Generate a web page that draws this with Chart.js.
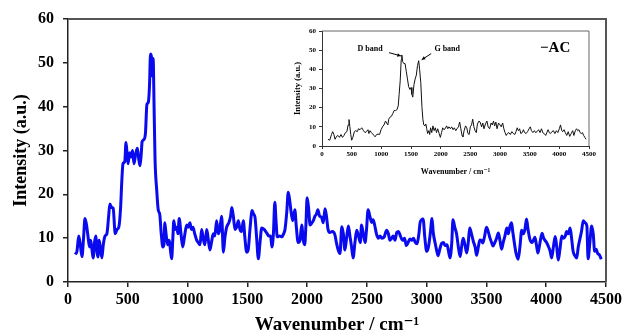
<!DOCTYPE html>
<html>
<head>
<meta charset="utf-8">
<script src="https://cdn.jsdelivr.net/npm/chart.js@4.4.1/dist/chart.umd.min.js"></script>
<style>
  html, body { margin: 0; padding: 0; background: #fff; }
  #wrap { position: relative; width: 625px; height: 336px; }
  #mainChart { position: absolute; left: 0; top: 0; }
  #insetChart { position: absolute; left: 280px; top: 19px; }
</style>
</head>
<body>
<div id="wrap">
  <canvas id="mainChart" width="625" height="336"></canvas>
  <canvas id="insetChart" width="326" height="165"></canvas>
</div>
<script>
// Datos del espectro principal (azul)
const mainX = [60,75,90,105,117,130,142,155,167,180,190,200,210,222,232,242,250,260,270,283,295,310,325,340,350,365,378,395,410,425,440,450,460,475,485,495,503,515,527,540,552,565,580,592,602,612,620,635,648,660,672,682,690,697,705,712,720,728,742,755,767,780,793,802,810,820,833,842,850,858,867,877,885,897,910,920,930,945,960,975,993,1005,1020,1032,1045,1060,1077,1090,1104,1118,1130,1145,1160,1172,1187,1200,1215,1228,1243,1257,1270,1285,1300,1312,1327,1345,1360,1370,1383,1397,1410,1425,1438,1452,1466,1480,1494,1508,1522,1540,1552,1564,1578,1592,1606,1620,1640,1662,1680,1695,1705,1718,1730,1740,1750,1770,1790,1800,1815,1830,1842,1855,1867,1880,1897,1910,1925,1940,1955,1968,1980,1990,2000,2012,2025,2040,2052,2065,2078,2090,2105,2120,2135,2150,2162,2175,2190,2210,2232,2245,2260,2275,2290,2303,2316,2330,2345,2358,2372,2385,2400,2415,2430,2445,2455,2470,2485,2497,2510,2525,2540,2552,2565,2580,2595,2610,2625,2645,2665,2680,2692,2705,2720,2735,2750,2765,2780,2800,2815,2830,2845,2860,2875,2890,2905,2920,2935,2945,2958,2970,2985,3000,3015,3030,3045,3055,3070,3085,3095,3110,3125,3140,3155,3170,3183,3195,3210,3220,3235,3250,3265,3280,3292,3305,3320,3335,3348,3360,3375,3390,3405,3418,3432,3445,3458,3470,3485,3500,3515,3530,3543,3555,3570,3585,3600,3613,3627,3640,3655,3670,3683,3695,3710,3720,3733,3748,3765,3780,3795,3808,3822,3835,3848,3865,3880,3893,3905,3918,3930,3945,3965,3978,3990,4005,4020,4033,4045,4060,4075,4088,4100,4115,4130,4145,4160,4170,4185,4200,4212,4225,4240,4255,4268,4280,4295,4310,4325,4340,4350,4365,4380,4393,4405,4418,4430,4445,4460];
const mainY = [6.3,7,10.5,8,5.8,10,14.5,13,10.5,8,9.5,7.5,5.5,9,10.5,7,5.7,9.5,8,5.5,8.5,10.5,11,15,17.8,17,16.8,11,12,12.5,17,23,27,27.5,31.8,29,27,29.5,28.5,30,27,29,30.5,28,26.5,29,32,32.5,34,40.5,41,45,52,51.5,47,51,40,28,21,16.4,15.5,11,8,8.5,13.5,11,8.5,9.5,9,7,5.3,10,14,12,12.5,11,14.5,11,8,10.5,13,12.5,13.5,12,12.5,11,9.5,9,8.5,12,10,8.5,12,10,7.3,9,11,10.5,14,11,12,15,6.8,10,12.5,13.5,15,17,15,12,12.5,14,12,11.5,14,10,6.8,7.5,12,16.3,15.5,14.8,10,5.3,9,12.3,12,11.2,10.5,10.5,8,11,18.2,14,10.3,10.5,10.3,10.8,12,16,20.5,18.5,15.8,14,16.5,12.5,9,9.5,13,9.5,8.5,13,19.2,17,13,13.5,14,15,15.5,16.5,15,14.8,13.5,16.7,15,12,11.3,11.5,10.8,9,7.3,6.5,12.6,11,7.3,10,12.8,10.5,8,5.5,9,11.8,10.5,9,13,11,9,12,16.5,15,13.6,14.2,13,11,10,10.5,10,10.3,11.8,11,9.5,9.9,10.5,9.5,11.3,11.5,10.5,9.5,10,8.3,9,9.8,9.5,10,9,8.7,11,13.5,14.2,14.4,10,7,8,11,14.5,11.3,9,7,6,7.5,8.8,9,8.3,8.5,7,5.5,9,14.2,12.5,11,8,5.8,8,10,8.5,6.6,9,12.3,11,9.3,8,6.1,8,9.6,9.5,8.9,10.5,12.5,11.5,10,9,8.2,9,10,11.2,9.5,7.5,9,10.5,12.3,11,12.5,13.5,11.5,9,6.5,5.2,8,11.8,11,12,14.4,12,9.6,9,9.5,10.2,8.5,6.6,8.5,11.1,10,9.5,8.9,8,7,5.5,8,10.4,8,5,7.5,10.5,10,10.5,11.5,11,12.3,10,7,6,5.5,8,9.6,11.5,14,13.5,12.8,5.3,9,12.8,11,7,7.5,6.5,6.2,5.2];

// Datos del recuadro (AC, negro)
const insetX = [100,130,160,180,200,220,245,270,295,320,345,370,395,420,440,455,470,485,500,520,545,570,595,615,640,670,700,725,750,775,790,810,830,850,875,895,920,945,970,995,1020,1045,1070,1090,1110,1125,1145,1170,1195,1215,1240,1265,1285,1300,1318,1335,1345,1360,1380,1400,1420,1440,1460,1480,1500,1515,1530,1550,1570,1590,1610,1630,1645,1665,1685,1700,1715,1735,1750,1765,1780,1800,1815,1830,1850,1870,1890,1910,1930,1950,1975,1995,2015,2035,2055,2075,2100,2120,2140,2165,2185,2210,2230,2255,2275,2300,2320,2340,2360,2375,2395,2420,2440,2460,2480,2500,2520,2540,2560,2580,2600,2620,2645,2665,2690,2710,2730,2755,2780,2800,2825,2850,2870,2890,2910,2930,2950,2975,3000,3020,3045,3065,3085,3105,3125,3150,3175,3200,3225,3250,3270,3290,3310,3330,3350,3375,3395,3415,3440,3465,3490,3510,3530,3555,3580,3600,3625,3650,3675,3700,3720,3745,3770,3790,3810,3830,3850,3875,3900,3925,3950,3975,4000,4020,4040,4060,4080,4100,4125,4150,4175,4200,4225,4245,4270,4290,4310,4330,4350,4370,4390,4410,4430,4450];
const insetY = [3.5,3,6,7.5,6,3.5,5,5.5,4.5,6,4.5,5.5,7,7.5,11,13.8,10,6,3,4.5,7.5,8,7.5,9,8.5,9.5,8,7,7.5,8.5,6.5,8,7,6.5,5.5,4.8,6,6.2,6,8.5,10,11,13,12,11,14,15,15.5,17,18.5,18.5,19,21,27,34,45,47.5,44,43,43,39,35,31,29.5,30.5,27,25.5,32,35,37,42,44.5,40,33,20,14,11,10.5,11.5,9,6.5,8,6,9.5,7,10.5,8,9.5,7,9,6.5,4.5,7,9.5,8.5,9,10.5,9,10,9,10,8.5,9.5,8,9,10,12.5,9,5.5,4.8,8,10.5,9.5,6.5,6,10,11,14,10,8,7,11.5,13,12.5,10,12,9,11.5,13,10,9,12,11,13,10.5,12.5,9,12,11,10,12,9,7,5.5,6.5,7,6,7.5,6.5,6,7.5,9.5,8,9,6.5,7,8.5,7,6.5,7.5,9,10,8,7,8,7,7.5,8.5,7,9,7,6.5,5.5,7,8.5,7,6.5,7.5,8,6.5,8,7,9,11,8,7.5,8.5,7,5.5,7.5,5,6.5,8,5.5,8,9,8,8.5,7,6.5,7,5.5,4.5,3.5];

// Etiquetas del recuadro
const bandLabels = ['D band', 'G band'];
const bandLabelX = [810, 2110];
const bandLabelY = [50.6, 50.6];
const arrowFromX = [1130, 1840];
const arrowFromY = [48.7, 48.2];
const arrowToX = [1330, 1680];
const arrowToY = [47, 45];
const seriesName = 'AC';
const seriesNameX = 3930;
const seriesNameY = 51;

const SERIF = "'Liberation Serif', 'Times New Roman', 'DejaVu Serif', serif";

function toPoints(xs, ys) {
    return xs.map((x, i) => ({ x: x, y: ys[i] }));
}

// Sin separador de miles en las marcas
const plainTick = v => String(v);

// Marco superior y derecho del área del gráfico
const boxFrame = {
    id: 'boxFrame',
    afterDraw(chart, args, opts) {
        const { ctx, chartArea: a } = chart;
        ctx.save();
        ctx.strokeStyle = opts.color;
        ctx.lineWidth = opts.width;
        ctx.beginPath();
        ctx.moveTo(a.left, a.top);
        ctx.lineTo(a.right, a.top);
        ctx.lineTo(a.right, a.bottom);
        ctx.stroke();
        ctx.restore();
    }
};

// Textos y flechas de las bandas D y G
const bandNotes = {
    id: 'bandNotes',
    afterDatasetsDraw(chart) {
        const { ctx, scales: { x, y } } = chart;
        ctx.save();
        ctx.fillStyle = '#000';
        ctx.strokeStyle = '#000';
        ctx.textAlign = 'center';
        ctx.textBaseline = 'middle';
        ctx.font = 'bold 8px ' + SERIF;
        bandLabels.forEach((t, i) => {
            ctx.fillText(t, x.getPixelForValue(bandLabelX[i]), y.getPixelForValue(bandLabelY[i]));
            const x0 = x.getPixelForValue(arrowFromX[i]), y0 = y.getPixelForValue(arrowFromY[i]);
            const x1 = x.getPixelForValue(arrowToX[i]), y1 = y.getPixelForValue(arrowToY[i]);
            ctx.lineWidth = 1;
            ctx.beginPath();
            ctx.moveTo(x0, y0);
            ctx.lineTo(x1, y1);
            ctx.stroke();
            const ang = Math.atan2(y1 - y0, x1 - x0);
            ctx.beginPath();
            ctx.moveTo(x1, y1);
            ctx.lineTo(x1 - 4 * Math.cos(ang - 0.45), y1 - 4 * Math.sin(ang - 0.45));
            ctx.lineTo(x1 - 4 * Math.cos(ang + 0.45), y1 - 4 * Math.sin(ang + 0.45));
            ctx.closePath();
            ctx.fill();
        });
        ctx.font = 'bold 15px ' + SERIF;
        ctx.fillText('\u2212' + seriesName, x.getPixelForValue(seriesNameX), y.getPixelForValue(seriesNameY));
        ctx.restore();
    }
};

function init() {
    Chart.defaults.font.family = SERIF;
    Chart.defaults.color = '#000';

    new Chart(document.getElementById('mainChart'), {
        type: 'line',
        data: {
            datasets: [{
                data: toPoints(mainX, mainY),
                borderColor: '#0a0aee',
                borderWidth: 3,
                pointRadius: 0,
                cubicInterpolationMode: 'monotone'
            }]
        },
        options: {
            responsive: false,
            animation: false,
            layout: { padding: { top: 19, right: 19, left: 0, bottom: 0 } },
            plugins: {
                legend: { display: false },
                tooltip: { enabled: false },
                boxFrame: { color: '#555', width: 2 }
            },
            scales: {
                x: {
                    type: 'linear',
                    min: 0,
                    max: 4500,
                    afterFit: s => { s.height = 54; },
                    ticks: { stepSize: 500, font: { size: 16, weight: 'bold' }, padding: 3, maxRotation: 0, callback: plainTick },
                    grid: { drawOnChartArea: false, tickLength: 5, color: '#222', lineWidth: 1.5 },
                    border: { color: '#222', width: 1.5 },
                    title: { display: true, text: 'Wavenumber / cm\u207B\u00B9', font: { size: 19, weight: 'bold' }, padding: { top: 0, bottom: 0 } }
                },
                y: {
                    min: 0,
                    max: 60,
                    afterFit: s => { s.width = 68; },
                    ticks: { stepSize: 10, font: { size: 16, weight: 'bold' }, padding: 9, callback: plainTick },
                    grid: { drawOnChartArea: false, tickLength: 5, color: '#222', lineWidth: 1.5 },
                    border: { color: '#222', width: 1.5 },
                    title: { display: true, text: 'Intensity (a.u.)', font: { size: 18, weight: 'bold' }, padding: { top: 11, bottom: 0 } }
                }
            }
        },
        plugins: [boxFrame]
    });

    new Chart(document.getElementById('insetChart'), {
        type: 'line',
        data: {
            datasets: [{
                data: toPoints(insetX, insetY),
                borderColor: '#111',
                borderWidth: 1,
                pointRadius: 0,
                tension: 0
            }]
        },
        options: {
            responsive: false,
            animation: false,
            layout: { padding: { top: 12, right: 17, left: 0, bottom: 0 } },
            plugins: {
                legend: { display: false },
                tooltip: { enabled: false },
                boxFrame: { color: '#666', width: 1 }
            },
            scales: {
                x: {
                    type: 'linear',
                    min: 0,
                    max: 4500,
                    afterFit: s => { s.height = 38; },
                    ticks: { stepSize: 500, font: { size: 7, weight: 'bold' }, padding: 1, maxRotation: 0, autoSkip: false, callback: plainTick },
                    grid: { drawOnChartArea: false, tickLength: 3, color: '#333' },
                    border: { color: '#333', width: 1 },
                    title: { display: true, text: 'Wavenumber / cm\u207B\u00B9', font: { size: 8, weight: 'bold' }, padding: { top: 0, bottom: 7 } }
                },
                y: {
                    min: 0,
                    max: 60,
                    afterFit: s => { s.width = 42; },
                    ticks: { stepSize: 10, font: { size: 7, weight: 'bold' }, padding: 3, callback: plainTick },
                    grid: { drawOnChartArea: false, tickLength: 3, color: '#333' },
                    border: { color: '#333', width: 1 },
                    title: { display: true, text: 'Intensity (a.u.)', font: { size: 8.5, weight: 'bold' }, padding: { top: 13, bottom: 0 } }
                }
            }
        },
        plugins: [boxFrame, bandNotes]
    });
}

document.addEventListener('DOMContentLoaded', init);
</script>
</body>
</html>
